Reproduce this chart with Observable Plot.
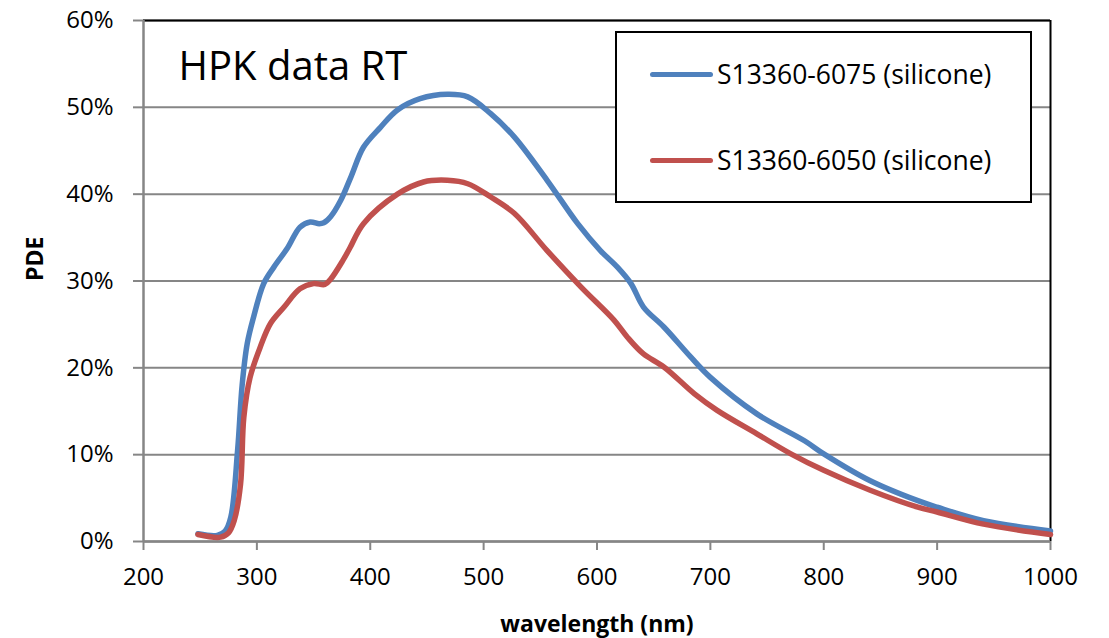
<!DOCTYPE html>
<html>
<head>
<meta charset="utf-8">
<script src="https://cdn.jsdelivr.net/npm/d3@7"></script>
<script src="https://cdn.jsdelivr.net/npm/@observablehq/plot@0.6"></script>
<style>
  html, body { margin: 0; padding: 0; background: #fff; }
  #wrap { position: relative; width: 1109px; height: 638px; font-family: "Open Sans", sans-serif; }
  #legend { position: absolute; left: 615px; top: 31px; width: 413px; height: 168px; border: 2px solid #000; background: #fff; box-sizing: content-box; }
  .item { position: absolute; left: 33px; display: flex; align-items: center; font-size: 26.5px; color: #000; }
  .swatch { width: 63px; height: 5px; border-radius: 3px; margin-right: 4px; }
</style>
</head>
<body>
<div id="wrap"></div>
<script>
// Series names and colours
const seriesNames = ["S13360-6075 (silicone)", "S13360-6050 (silicone)"];
const seriesColors = ["#4F81BD", "#C0504D"];

// S13360-6075 (silicone): wavelength (nm) and PDE (%)
const wl6075 = [248, 265, 272, 277, 283, 287, 291.5, 297, 306, 315, 327, 338, 347, 355, 359, 365, 374, 383, 394, 409, 424, 444, 468, 486, 506, 527, 556, 583, 603, 618, 630, 641, 659, 683, 700, 741, 783, 800, 841, 883, 900, 941, 1000];
const pde6075 = [0.9, 0.7, 1.2, 2.8, 10.5, 18.0, 22.8, 25.8, 29.7, 31.6, 33.8, 36.2, 36.8, 36.6, 36.7, 37.4, 39.3, 42.0, 45.4, 47.7, 49.7, 51.0, 51.5, 51.2, 49.3, 46.6, 41.6, 36.6, 33.5, 31.6, 29.7, 27.0, 24.7, 21.2, 18.9, 14.7, 11.6, 10.1, 7.0, 4.7, 3.95, 2.4, 1.2];

// S13360-6050 (silicone): wavelength (nm) and PDE (%)
const wl6050 = [248, 268, 275, 280, 285.6, 288.5, 294, 303, 312, 324, 338, 350, 360, 365, 376, 382, 394, 424, 447, 468, 486, 506, 527, 556, 586, 615, 627, 641, 659, 686, 706, 741, 771, 800, 841, 883, 900, 941, 1000];
const pde6050 = [0.8, 0.5, 1.0, 2.4, 6.6, 14.3, 18.9, 22.4, 25.1, 27.0, 29.1, 29.7, 29.6, 30.2, 32.4, 33.8, 36.6, 40.0, 41.4, 41.6, 41.2, 39.7, 37.8, 33.5, 29.3, 25.5, 23.5, 21.6, 20.1, 17.0, 15.1, 12.4, 10.1, 8.2, 5.9, 3.95, 3.4, 2.0, 0.8];

// Axis ticks and texts
const xTicks = [200, 300, 400, 500, 600, 700, 800, 900, 1000];
const yTicks = [0, 10, 20, 30, 40, 50, 60];
const xLabel = "wavelength (nm)";
const yLabel = "PDE";
const annotation = "HPK data RT";

const data = [
  ...wl6075.map((w, i) => ({series: seriesNames[0], wl: w, pde: pde6075[i]})),
  ...wl6050.map((w, i) => ({series: seriesNames[1], wl: w, pde: pde6050[i]}))
];

const gray = "#868686";

const chart = Plot.plot({
  width: 1109,
  height: 638,
  marginLeft: 143,
  marginRight: 59,
  marginTop: 20,
  marginBottom: 97,
  style: {fontFamily: "'Open Sans', sans-serif", fontSize: "24px", color: "#000", background: "#fff", overflow: "visible"},
  x: {domain: [200, 1000]},
  y: {domain: [0, 60]},
  color: {domain: seriesNames, range: seriesColors},
  marks: [
    Plot.gridY(yTicks, {stroke: gray, strokeOpacity: 1, strokeWidth: 2}),
    Plot.ruleY([60], {stroke: "#000", strokeWidth: 2}),
    Plot.ruleX([1000], {stroke: "#000", strokeWidth: 2}),
    Plot.ruleX([200], {stroke: gray, strokeWidth: 2.5}),
    Plot.ruleY([0], {stroke: gray, strokeWidth: 2.5}),
    Plot.axisY(yTicks, {tickSize: 10, tickPadding: 20, tickFormat: d => d + "%", stroke: gray, strokeWidth: 2, fill: "#000", fontSize: 24, label: null}),
    Plot.axisX(xTicks, {tickSize: 9, tickPadding: 17, tickFormat: d => String(d), stroke: gray, strokeWidth: 2, fill: "#000", fontSize: 24, label: null}),
    Plot.line(data, {x: "wl", y: "pde", z: "series", stroke: "series", strokeWidth: 5.5, curve: "catmull-rom", strokeLinecap: "round", strokeLinejoin: "round"}),
    Plot.text([annotation], {frameAnchor: "top-left", text: d => d, dx: 35, dy: 31, fontSize: 40, textAnchor: "start", lineAnchor: "top", fill: "#000"}),
    Plot.text([xLabel], {frameAnchor: "bottom", text: d => d, dy: 90, fontSize: 23, fontWeight: "bold", fill: "#000"}),
    Plot.text([yLabel], {frameAnchor: "left", text: d => d, dx: -108, rotate: -90, fontSize: 23, fontWeight: "bold", fill: "#000"})
  ]
});

const wrap = document.getElementById("wrap");
wrap.appendChild(chart);

const legend = document.createElement("div");
legend.id = "legend";
seriesNames.forEach((name, i) => {
  const item = document.createElement("div");
  item.className = "item";
  item.style.top = (i === 0 ? 23 : 109) + "px";
  const sw = document.createElement("div");
  sw.className = "swatch";
  sw.style.background = seriesColors[i];
  const label = document.createElement("span");
  label.textContent = name;
  item.appendChild(sw);
  item.appendChild(label);
  legend.appendChild(item);
});
wrap.appendChild(legend);
</script>
</body>
</html>
